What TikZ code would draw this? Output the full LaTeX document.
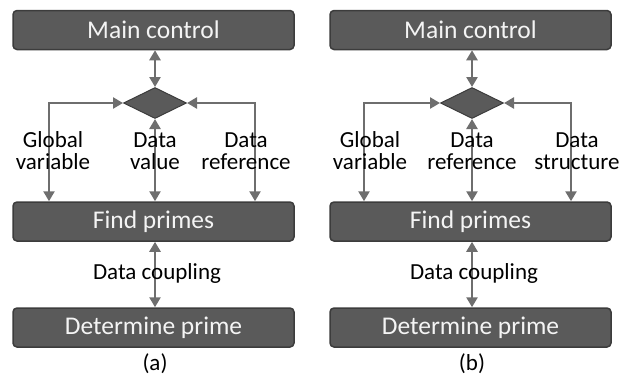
\documentclass[tikz,border=0pt]{standalone}
\usepackage{fontspec}
\setmainfont{Carlito}
\usetikzlibrary{shapes.geometric,arrows.meta}
\definecolor{boxfill}{HTML}{5A5A5A}
\definecolor{boxline}{HTML}{3C3C3C}
\definecolor{boxtext}{HTML}{F4F4F4}
\definecolor{arrowc}{HTML}{6E6E6E}
\tikzset{
  box/.style={draw=boxline, line width=1.5pt, fill=boxfill, rounded corners=4pt,
    minimum width=281pt, minimum height=39pt, inner sep=0pt, text=boxtext,
    font=\fontsize{25.5}{28}\selectfont},
  dia/.style={diamond, draw=boxline, line width=1pt, fill=boxfill, minimum width=63pt,
    minimum height=31pt, inner sep=0pt, shape aspect=2},
  conn/.style={draw=arrowc, line width=2.8pt, {Triangle[length=10pt,width=11pt]}-{Triangle[length=10pt,width=11pt]}},
  lbl/.style={align=center, font=\fontsize{23}{22}\selectfont, text=black, inner sep=0pt},
  captxt/.style={font=\fontsize{23}{26}\selectfont, inner sep=0pt}
}
\begin{document}
\begin{tikzpicture}[x=1pt,y=-1pt]
\useasboundingbox (0,0) rectangle (620,378);
% ---------- panel (a)
\node[box] (am) at (153.5,30) {Main control};
\node[dia] (ad) at (155,103) {};
\node[box] (af) at (153.5,221.5) {Find primes};
\node[box] (ap) at (153.5,327.5) {Determine prime};
\node[captxt] (ac) at (155,364) {(a)};
\coordinate (al) at (49,103);
\coordinate (ar) at (255,103);
\draw[conn] (am.south -| ad) -- (ad.north);
\draw[conn] (ad.west) -- (al) -- (al |- af.north);
\draw[conn] (ad.east) -- (ar) -- (ar |- af.north);
\draw[conn] (ad.south) -- (ad |- af.north);
\draw[conn] (af.south -| ad) -- (ap.north -| ad);
\node[lbl] (ag) at (53,151) {Global\\variable};
\node[lbl] (av) at (155,151) {Data\\value};
\node[lbl] (aref) at (246,151) {Data\\reference};
\node[lbl] (adc) at (157,273) {Data coupling};
% ---------- panel (b)
\node[box] (bm) at (470.5,30) {Main control};
\node[dia] (bd) at (472,103) {};
\node[box] (bf) at (470.5,221.5) {Find primes};
\node[box] (bp) at (470.5,327.5) {Determine prime};
\node[captxt] (bc) at (472,364) {(b)};
\coordinate (bl) at (364,103);
\coordinate (br) at (571,103);
\draw[conn] (bm.south -| bd) -- (bd.north);
\draw[conn] (bd.west) -- (bl) -- (bl |- bf.north);
\draw[conn] (bd.east) -- (br) -- (br |- bf.north);
\draw[conn] (bd.south) -- (bd |- bf.north);
\draw[conn] (bf.south -| bd) -- (bp.north -| bd);
\node[lbl] (bg) at (370,151) {Global\\variable};
\node[lbl] (bv) at (472,151) {Data\\reference};
\node[lbl] (bs) at (577,151) {Data\\structure};
\node[lbl] (bdc) at (474,273) {Data coupling};
\end{tikzpicture}
\end{document}
